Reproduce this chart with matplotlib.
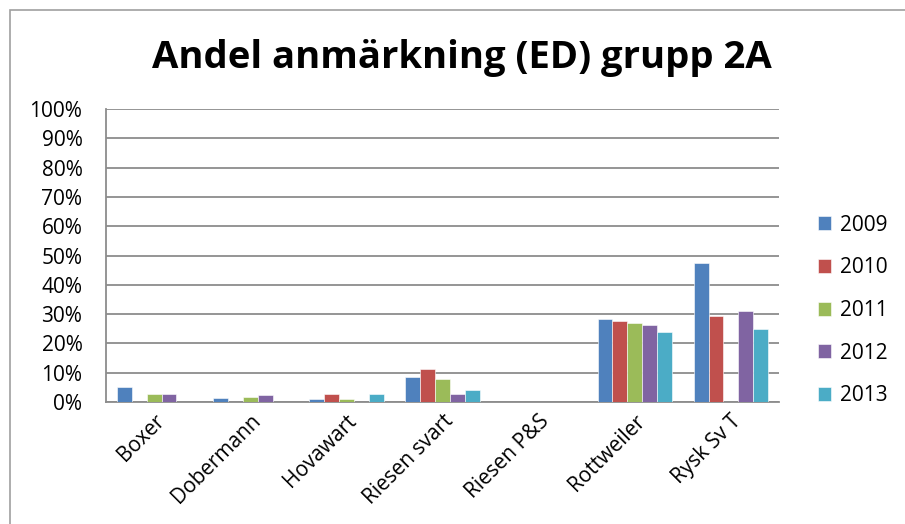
import numpy as np
import matplotlib.pyplot as plt
from matplotlib.patches import Rectangle
from matplotlib.ticker import PercentFormatter

plt.rcParams['font.family'] = ['Open Sans', 'DejaVu Sans']

# Data (share in percent)
breeds = ["Boxer", "Dobermann", "Hovawart", "Riesen svart", "Riesen P&S", "Rottweiler", "Rysk Sv T"]
years = ["2009", "2010", "2011", "2012", "2013"]
v2009 = [5.0, 1.2, 0.9, 8.6, 0, 28.4, 47.6]
v2010 = [0, 0, 2.9, 11.1, 0, 27.6, 29.3]
v2011 = [2.7, 1.8, 1.0, 7.7, 0, 26.9, 0]
v2012 = [2.8, 2.5, 0, 2.7, 0, 26.3, 31.1]
v2013 = [0, 0, 2.8, 4.1, 0, 23.8, 24.8]
series = [v2009, v2010, v2011, v2012, v2013]
colors = ["#4F81BD", "#C0504D", "#9BBB59", "#8064A2", "#4BACC6"]

fig = plt.figure(figsize=(9.05, 5.24), dpi=100)
ax = fig.add_axes([106/905, 1-402/524, (779-106)/905, (402-109)/524])

# frame around the whole chart
fig.patches.append(Rectangle((10/905, -0.1), 1.2, 1 - 10/524 + 0.1, transform=fig.transFigure,
                             fill=False, edgecolor="#A0A0A0", lw=1.2))

x = np.arange(len(breeds))
w = 0.155
for i, (vals, c) in enumerate(zip(series, colors)):
    ax.bar(x + (i - 2) * w, vals, w, color=c, label=years[i], zorder=3,
           edgecolor="white", linewidth=0.4)

ax.set_xlim(-0.5, len(breeds) - 0.5)
ax.set_ylim(0, 100)
ax.set_yticks(np.arange(0, 101, 10))
ax.yaxis.set_major_formatter(PercentFormatter(decimals=0))
ax.grid(axis="y", color="#8C8C8C", lw=1.3, zorder=0)
for s in ["top", "right"]:
    ax.spines[s].set_visible(False)
for s in ["left", "bottom"]:
    ax.spines[s].set_color("#8C8C8C")
    ax.spines[s].set_linewidth(1.3)
ax.tick_params(axis="y", length=0, labelsize=15, pad=17)
ax.tick_params(axis="x", length=0, labelsize=15, pad=6)
ax.set_xticks(x)
ax.set_xticklabels(breeds, rotation=45, ha="right", rotation_mode="anchor")

fig.text(462/905, 1-58/524, "Andel anmärkning (ED) grupp 2A", ha="center", va="center",
         fontsize=27.5, fontweight="bold")

leg = fig.legend(loc="upper left", bbox_to_anchor=(799/905, 1-196/524), frameon=False,
                 fontsize=15, handlelength=0.65, handleheight=0.65, labelspacing=1.04,
                 handletextpad=0.4)

fig.savefig("out.png", dpi=100)
